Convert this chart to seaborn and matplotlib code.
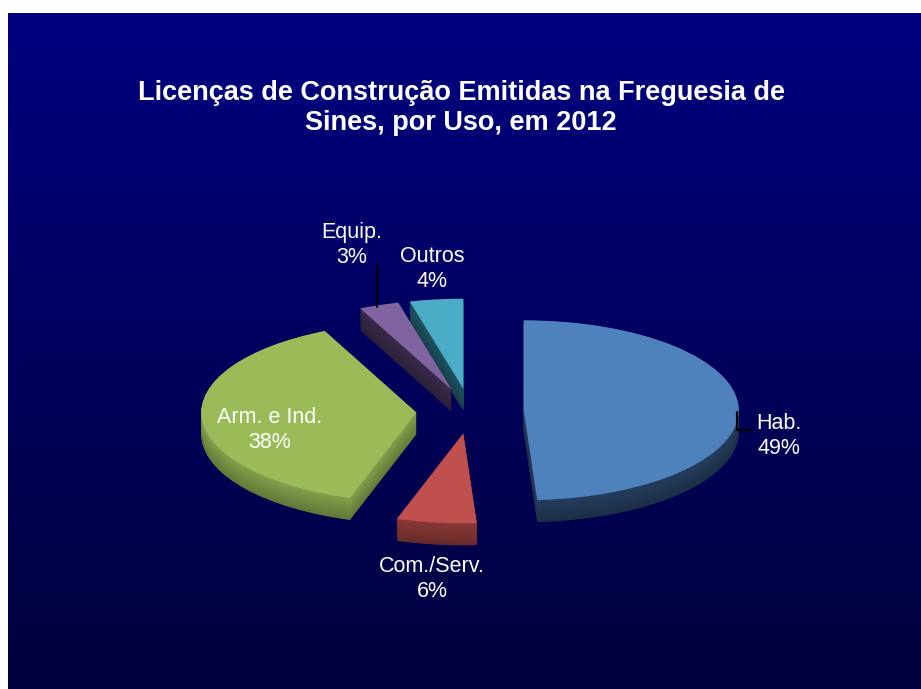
import numpy as np
import matplotlib
matplotlib.use("Agg")
import matplotlib.pyplot as plt
import seaborn as sns
from matplotlib.colors import LinearSegmentedColormap, to_rgb

sns.set_theme(style="white")
plt.rcParams['font.family'] = ['Liberation Sans', 'DejaVu Sans']

# dados
categorias = ["Hab.", "Com./Serv.", "Arm. e Ind.", "Equip.", "Outros"]
percentagens = [49, 6, 38, 3, 4]
cores = ["#4F81BD", "#C0504D", "#9BBB59", "#8064A2", "#4BACC6"]
cores_lado = ["#253E5E", "#8A3937", "#84A04B", "#3A2B4C", "#1F5463"]
titulo = "Licenças de Construção Emitidas na Freguesia de\nSines, por Uso, em 2012"

W, H = 921, 689
cx, cy = 470, 411        # centro da tarte (px)
rx, ry = 215, 90         # raios da elipse (px)
prof = 22                # profundidade 3D (px)

fig = plt.figure(figsize=(W / 100, H / 100), dpi=100)
fig.patch.set_facecolor("white")

# fundo em gradiente
ax_bg = fig.add_axes([0, 0, 1, 1])
ax_bg.set_xlim(0, W)
ax_bg.set_ylim(H, 0)
ax_bg.axis("off")
grad = np.linspace(0, 1, 256).reshape(-1, 1)
cmap = LinearSegmentedColormap.from_list("fundo", ["#000080", "#00003C"])
ax_bg.imshow(grad, cmap=cmap, aspect="auto", extent=(8, W, H, 13), zorder=0)

# tarte "3D": camadas empilhadas numa axes com escala eliptica
ax = fig.add_axes([0, 0, 1, 1])
ax.patch.set_alpha(0)
explode = [0.25] * len(percentagens)
n_camadas = 40
d_total = prof / ry
for k in range(n_camadas, 0, -1):
    d = d_total * k / n_camadas
    f = 1.0 - 0.25 * k / n_camadas
    cols = [tuple(np.clip(np.array(to_rgb(c)) * f, 0, 1)) for c in cores_lado]
    ax.pie(percentagens, colors=cols, startangle=90, counterclock=False,
           explode=explode, radius=1, center=(0, -d),
           wedgeprops=dict(linewidth=0, antialiased=True))
ax.pie(percentagens, colors=cores, startangle=90, counterclock=False,
       explode=explode, radius=1, center=(0, 0),
       wedgeprops=dict(linewidth=0))
ax.set_aspect("auto")
ax.set_xlim(-cx / rx, (W - cx) / rx)
ax.set_ylim((cy - H) / ry, cy / ry)
ax.axis("off")


def px(x, y):
    return x / W, 1 - y / H


# titulo
fig.text(*px(461, 108), titulo, color="white", fontsize=19.5, fontweight="bold",
         ha="center", va="center", linespacing=1.25)

# rotulos
pos_rotulos = [(779, 436), (432, 579), (270, 430), (352, 245), (432, 269)]
for nome, v, (x, y) in zip(categorias, percentagens, pos_rotulos):
    fig.text(*px(x, y), f"{nome}\n{v}%", color="white", fontsize=15.5,
             ha="center", va="center", linespacing=1.2)

# linhas de chamada
tr = ax_bg.transData
ax.plot([737, 737, 752], [412, 430, 430], color="black", lw=1.5, transform=tr, clip_on=False)
ax.plot([377, 377], [265, 307], color="black", lw=1.5, transform=tr, clip_on=False)

fig.savefig("out.png", dpi=100)
